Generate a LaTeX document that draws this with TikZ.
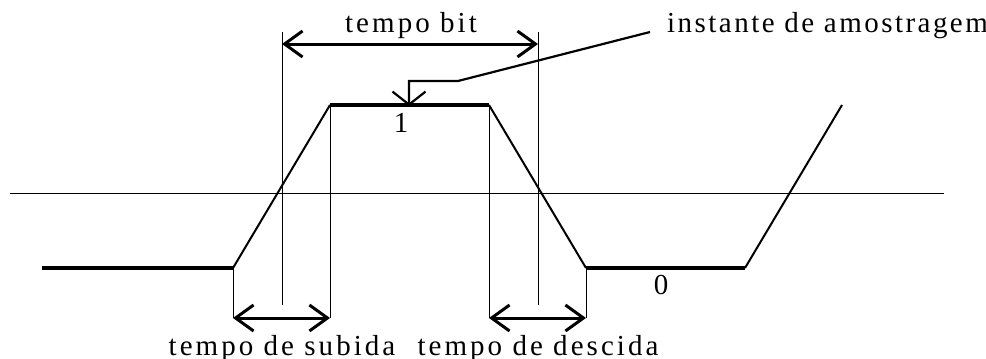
\documentclass[tikz,border=0pt]{standalone}
\usepackage{fontspec}
\setmainfont{Liberation Serif}
\newfontfamily\lblfont[LetterSpace=10.5]{Liberation Serif}
\newfontfamily\lblfontb[LetterSpace=8.5]{Liberation Serif}
\usetikzlibrary{arrows.meta}
\tikzset{
  sig/.style={line width=2pt},
  level/.style={line width=3.2pt},
  guide/.style={line width=0.8pt},
  axisline/.style={line width=1pt},
  dim/.style={line width=3pt, {Straight Barb[length=18pt,width=26pt]}-{Straight Barb[length=18pt,width=26pt]}},
  pointer/.style={line width=2.2pt, -{Straight Barb[length=13pt,width=33pt]}},
  lbl/.style={font=\lblfont\fontsize{29pt}{32pt}\selectfont, inner sep=0pt},
  lblb/.style={font=\lblfontb\fontsize{29pt}{32pt}\selectfont, inner sep=0pt}
}
\begin{document}
\begin{tikzpicture}[x=1pt,y=-1pt]
\useasboundingbox (0,0) rectangle (986,359);
% signal corners
\coordinate (L0) at (42,268);
\coordinate (R1) at (233,268);
\coordinate (R2) at (330,105);
\coordinate (F1) at (489,105);
\coordinate (F2) at (586,268);
\coordinate (R3) at (745,268);
\coordinate (R4) at (842,105);
% axis
\coordinate (A1) at (10,193);
\coordinate (A2) at (944,193);
\draw[axisline] (A1) -- (A2);
% guide lines
\coordinate (G1t) at (282,32);  \coordinate (G1b) at (282,305);
\coordinate (G2t) at (538,32);  \coordinate (G2b) at (538,305);
\coordinate (R1b) at (233,318);
\coordinate (R2b) at (330,318);
\coordinate (F1b) at (489,318);
\coordinate (F2b) at (586,318);
\draw[guide] (G1t) -- (G1b);
\draw[guide] (G2t) -- (G2b);
\draw[guide] (R1) -- (R1b);
\draw[guide] (R2) -- (R2b);
\draw[guide] (F1) -- (F1b);
\draw[guide] (F2) -- (F2b);
% signal
\draw[level] (L0) -- (R1);
\draw[sig] (R1) -- (R2);
\draw[level] (R2) -- (F1);
\draw[sig] (F1) -- (F2);
\draw[level] (F2) -- (R3);
\draw[sig] (R3) -- (R4);
% dimension arrows
\coordinate (B1) at (282,44); \coordinate (B2) at (538,44);
\draw[dim] (B1) -- (B2);
\draw[dim] (R1b) -- (R2b);
\draw[dim] (F1b) -- (F2b);
% sampling pointer
\coordinate (P0) at (650,32);
\coordinate (P1) at (458,81);
\coordinate (P2) at (409,81);
\coordinate (P3) at (409,106);
\draw[pointer] (P0) -- (P1) -- (P2) -- (P3);
% labels
\node[lbl, anchor=base] (tb) at (411,32) {tempo bit};
\node[lblb, anchor=base west] (ia) at (667,32) {instante de amostragem};
\node[lbl, anchor=base] (ts) at (282,355) {tempo de subida};
\node[lbl, anchor=base] (td) at (538,355) {tempo de descida};
\node[lbl, anchor=base] (one) at (401,132) {1};
\node[lbl, anchor=base] (zero) at (661,294) {0};
\end{tikzpicture}
\end{document}
